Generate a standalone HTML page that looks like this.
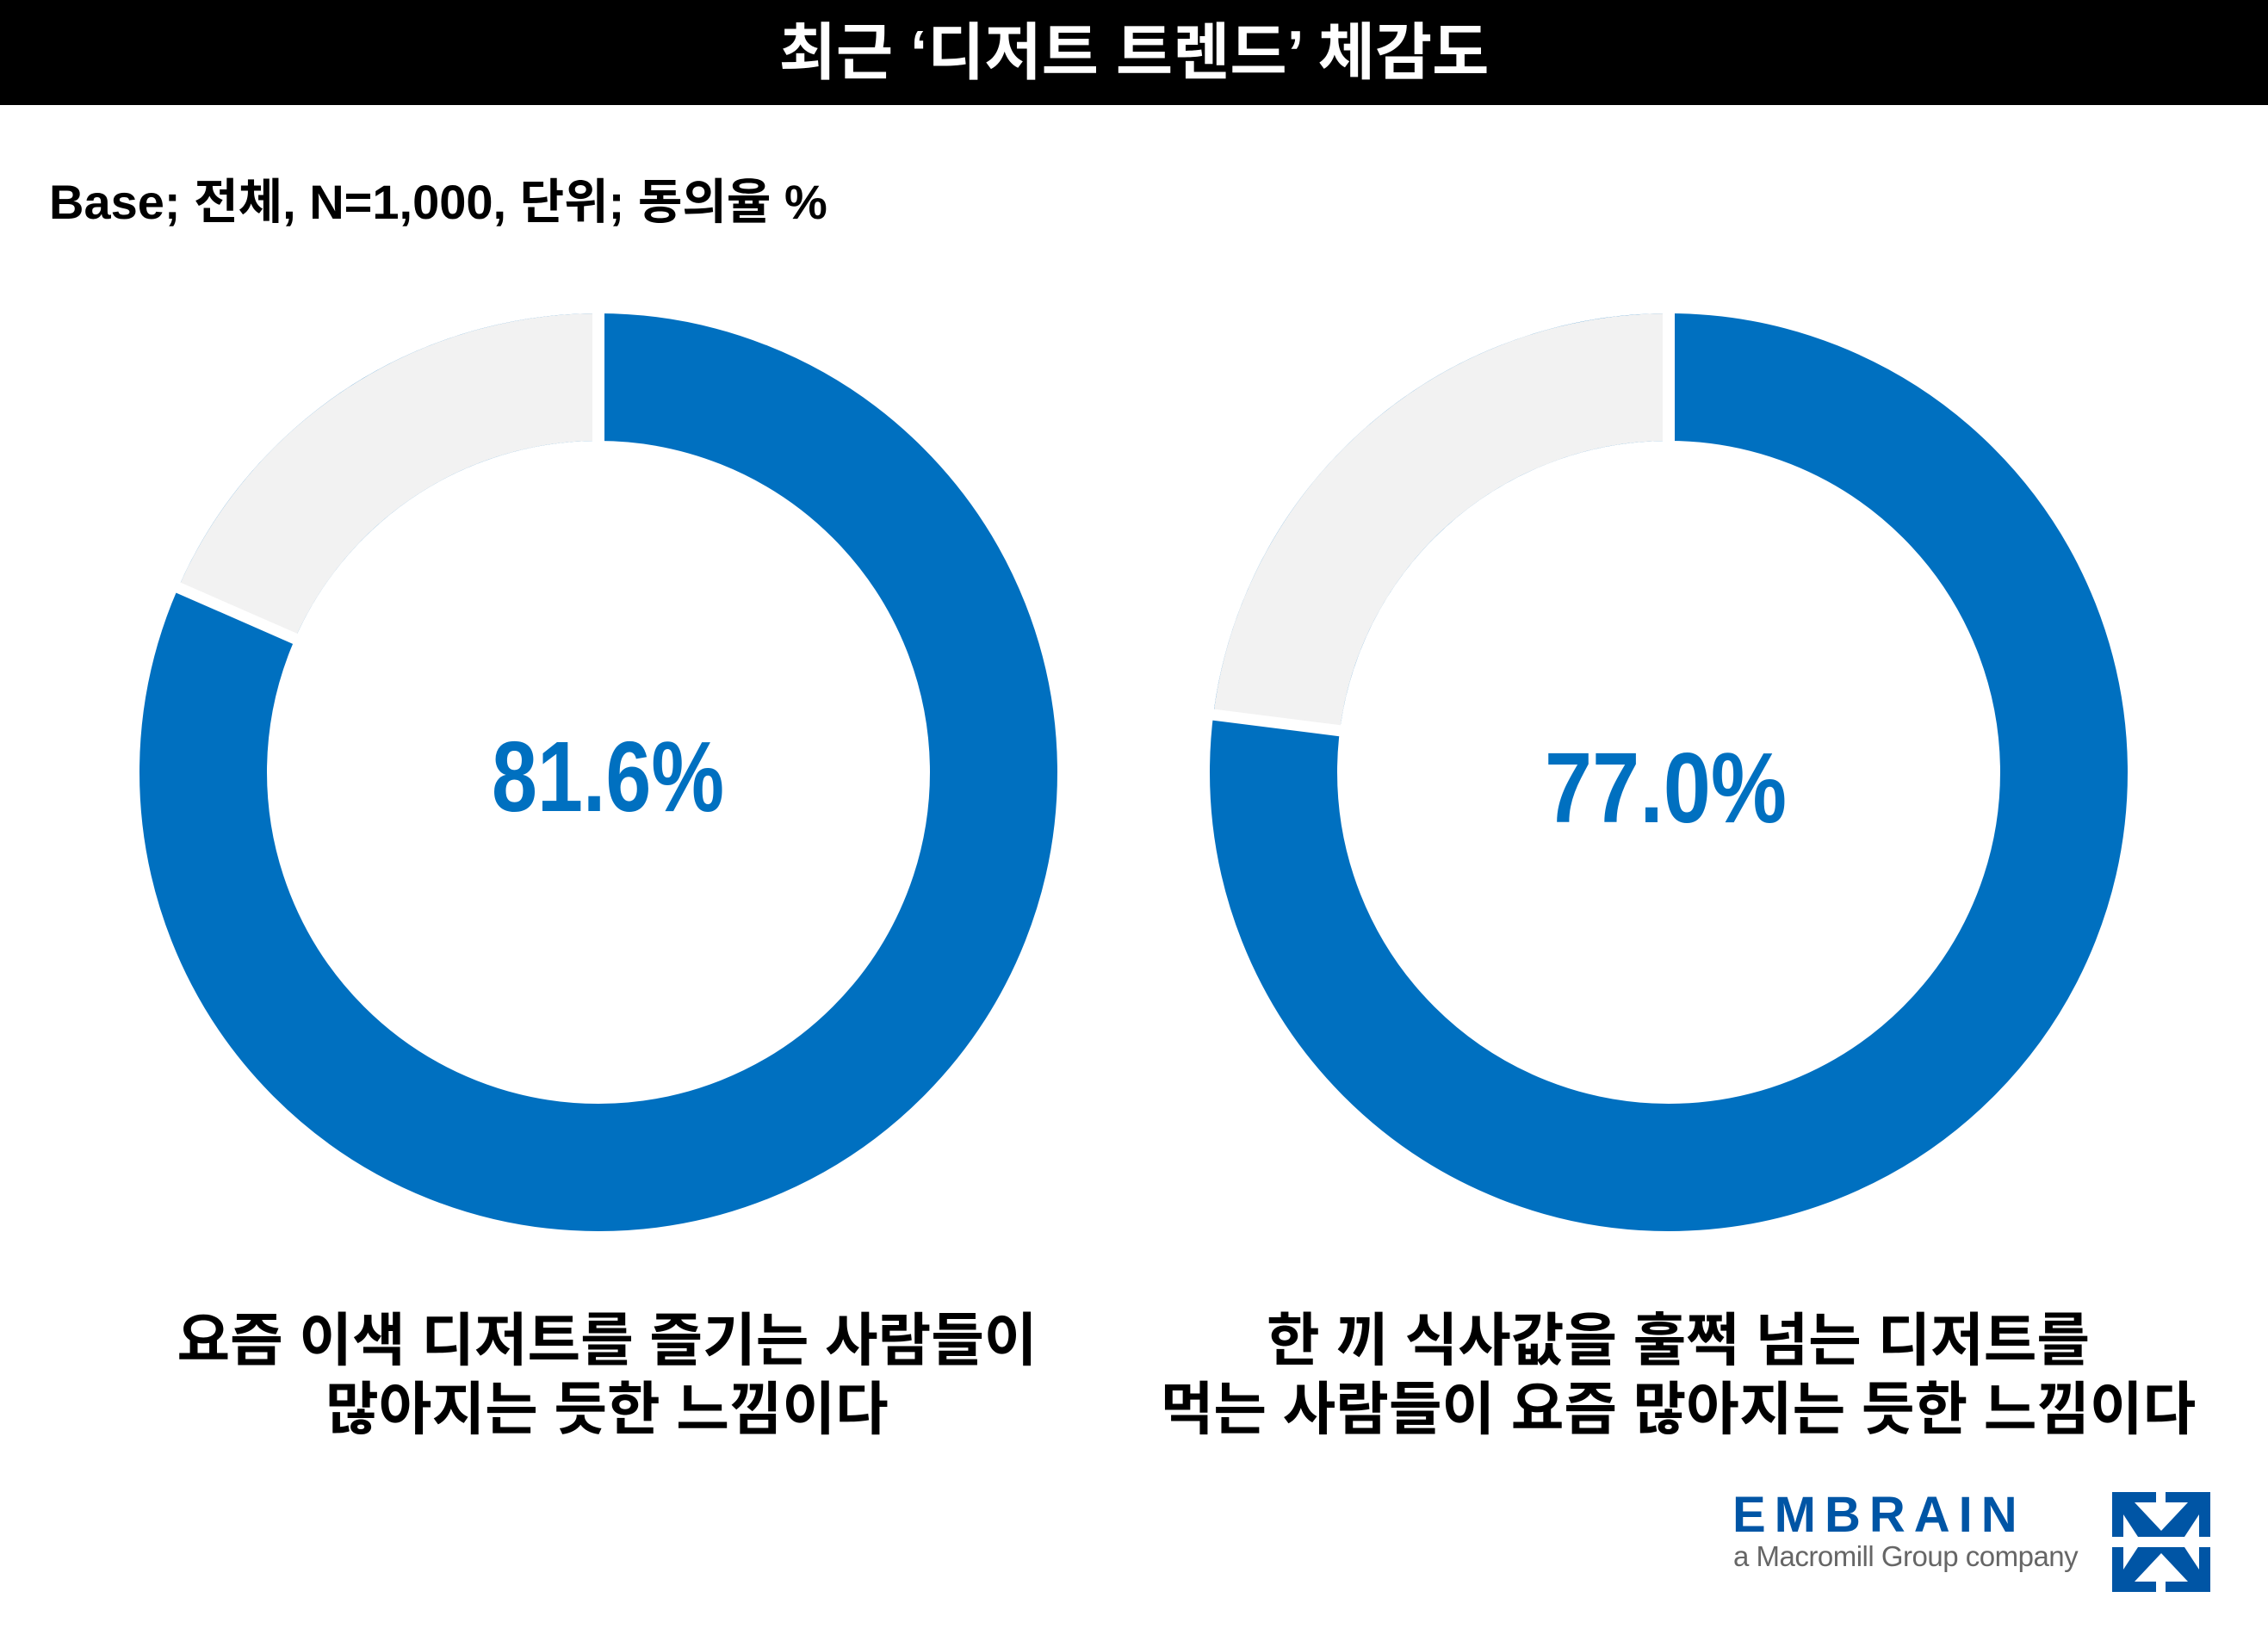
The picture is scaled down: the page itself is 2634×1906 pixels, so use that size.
<!DOCTYPE html>
<html><head><meta charset="utf-8"><style>
html,body{margin:0;padding:0;background:#fff;}
body{width:2634px;height:1906px;position:relative;overflow:hidden;font-family:"Liberation Sans","Noto Sans CJK KR",sans-serif;}
.hdr{position:absolute;left:0;top:0;width:2634px;height:122px;background:#000;}
.t{position:absolute;white-space:nowrap;}
</style></head><body>
<div class="hdr"></div>
<div class="t" style="left:0;width:2634px;text-align:center;top:14px;font-size:72px;font-weight:bold;color:#fff;letter-spacing:0px;line-height:96px;">최근 ‘디저트 트렌드’ 체감도</div>
<div class="t" style="left:57px;top:200px;font-size:56px;font-weight:bold;color:#000;letter-spacing:0px;line-height:70px;">Base; 전체, N=1,000, 단위; 동의율 %</div>
<svg style="position:absolute;left:0;top:0" width="2634" height="1906">
  <g>
    <circle cx="695" cy="897" r="459" fill="none" stroke="#0070C0" stroke-width="148"/>
    <circle cx="695" cy="897" r="459" fill="none" stroke="#F2F2F2" stroke-width="148" stroke-dasharray="530.7 3000" transform="rotate(203.76 695 897)"/>
    <line x1="695" y1="360" x2="695" y2="515" stroke="#fff" stroke-width="14"/>
    <line x1="199" y1="679" x2="352" y2="746" stroke="#fff" stroke-width="13"/>
  </g>
  <g>
    <circle cx="1938" cy="897" r="459" fill="none" stroke="#0070C0" stroke-width="148"/>
    <circle cx="1938" cy="897" r="459" fill="none" stroke="#F2F2F2" stroke-width="148" stroke-dasharray="663.3 3000" transform="rotate(187.2 1938 897)"/>
    <line x1="1938" y1="360" x2="1938" y2="515" stroke="#fff" stroke-width="14"/>
    <line x1="1400" y1="829" x2="1566" y2="850" stroke="#fff" stroke-width="13"/>
  </g>
  <text x="571" y="942" textLength="270" lengthAdjust="spacingAndGlyphs" font-family="Liberation Sans, sans-serif" font-weight="bold" font-size="116" fill="#0070C0">81.6%</text>
  <text x="1794" y="955" textLength="281" lengthAdjust="spacingAndGlyphs" font-family="Liberation Sans, sans-serif" font-weight="bold" font-size="116" fill="#0070C0">77.0%</text>
  <g transform="translate(2453,1733)">
    <rect x="0" y="0" width="114" height="116" fill="#0055A5"/>
    <rect x="51" y="0" width="11" height="12" fill="#fff"/>
    <rect x="51" y="104" width="11" height="12" fill="#fff"/>
    <rect x="0" y="52" width="114" height="12" fill="#fff"/>
    <polygon points="26,12 88,12 57,45" fill="#fff"/>
    <polygon points="13,26 13,52 30,52" fill="#fff"/>
    <polygon points="101,26 101,52 84,52" fill="#fff"/>
    <polygon points="26,104 88,104 57,71" fill="#fff"/>
    <polygon points="13,90 13,64 30,64" fill="#fff"/>
    <polygon points="101,90 101,64 84,64" fill="#fff"/>
  </g>
</svg>
<div class="t" style="left:0;width:1410px;text-align:center;top:1518px;font-size:67px;font-weight:bold;color:#000;letter-spacing:0px;line-height:80px;">요즘 이색 디저트를 즐기는 사람들이<br>많아지는 듯한 느낌이다</div>
<div class="t" style="left:1250px;width:1398px;text-align:center;top:1518px;font-size:67px;font-weight:bold;color:#000;letter-spacing:0px;line-height:80px;">한 끼 식사값을 훌쩍 넘는 디저트를<br>먹는 사람들이 요즘 많아지는 듯한 느낌이다</div>
<div class="t" style="left:2012px;top:1731px;font-size:58px;font-weight:bold;color:#0055A5;letter-spacing:10px;line-height:58px;">EMBRAIN</div>
<div class="t" style="left:2013px;top:1790px;font-size:33px;color:#666;line-height:36px;letter-spacing:-0.5px;">a Macromill Group company</div>
</body></html>
